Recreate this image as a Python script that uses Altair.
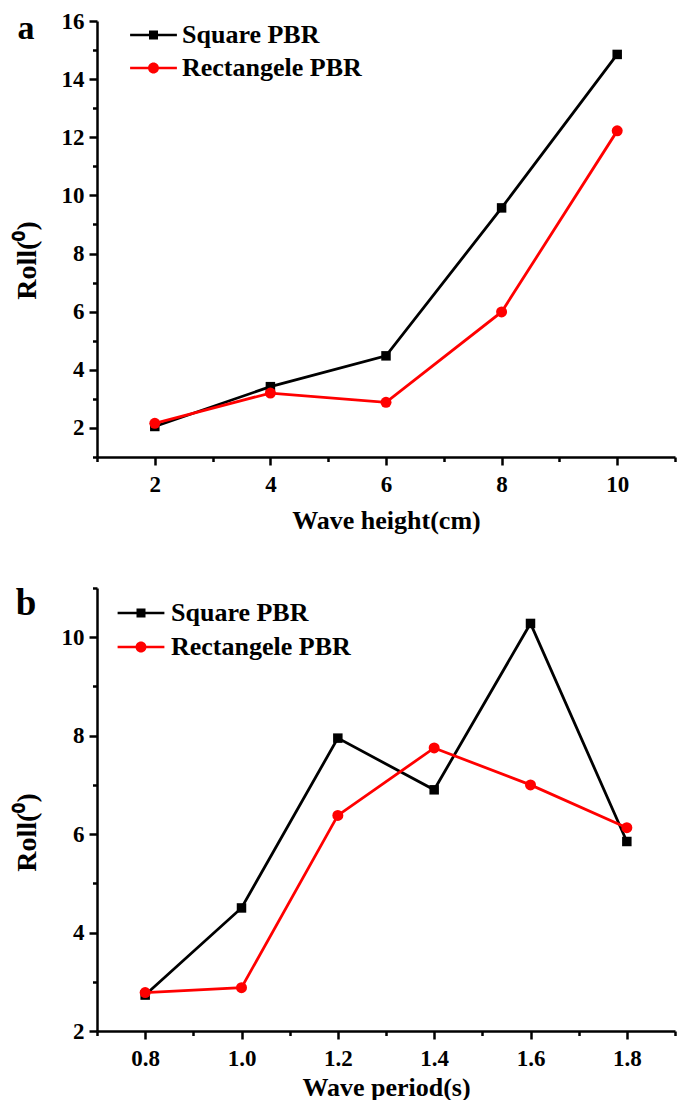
import altair as alt
import pandas as pd

# ---------------- data ----------------
series_names = ["Square PBR", "Rectangele PBR"]
series_colors = ["#000000", "#ff0000"]

wave_height_cm = [2, 4, 6, 8, 10]
roll_square_a = [2.05, 3.42, 4.48, 9.57, 14.85]
roll_rect_a = [2.16, 3.20, 2.88, 5.99, 12.22]

wave_period_s = [0.8, 1.0, 1.2, 1.4, 1.6, 1.8]
roll_square_b = [2.73, 4.50, 7.95, 6.90, 10.28, 5.85]
roll_rect_b = [2.78, 2.88, 6.38, 7.75, 7.00, 6.13]

a_x_ticks = [1, 2, 3, 4, 5, 6, 7, 8, 9, 10, 11]
a_y_ticks = [1, 2, 3, 4, 5, 6, 7, 8, 9, 10, 11, 12, 13, 14, 15, 16]
b_x_ticks = [0.7, 0.8, 0.9, 1.0, 1.1, 1.2, 1.3, 1.4, 1.5, 1.6, 1.7, 1.8, 1.9]
b_y_ticks = [2, 3, 4, 5, 6, 7, 8, 9, 10, 11]

panel_tags = ["a", "b"]
x_titles = ["Wave height(cm)", "Wave period(s)"]
y_title = "Roll(\u2070)"

# legend symbols: line segment with the marker in its middle (custom SVG paths)
LEGEND_PATHS = [
    "M-5.2,-0.3H-1V0.3H-5.2Z M-1,-1H1V1H-1Z M1,-0.3H5.2V0.3H1Z",
    "M-5.2,-0.3H-1.15V0.3H-5.2Z M-1.22,0A1.22,1.22 0 1,1 1.22,0A1.22,1.22 0 1,1 -1.22,0Z "
    "M1.15,-0.3H5.2V0.3H1.15Z",
]

FONT = "Liberation Serif"


def long_df(x, sq, rc):
    return pd.DataFrame({
        "x": list(x) + list(x),
        "y": list(sq) + list(rc),
        "series": [series_names[0]] * len(x) + [series_names[1]] * len(x),
    })


def panel(df, x_title, x_dom, y_dom, x_ticks, y_ticks, x_major, y_major, x_fmt,
          w, h, tag, tag_size, tag_y, sym_x, txt_x, rows_y, x_title_pad, y_title_y):
    x_axis = alt.Axis(
        values=x_ticks, format=x_fmt, title=x_title,
        labelExpr=f"({x_major}) ? datum.label : ''",
        tickSize={"condition": {"test": x_major, "value": 8}, "value": 4.5},
        labelPadding=8, titlePadding=x_title_pad,
    )
    y_axis = alt.Axis(
        values=y_ticks, format="d", title=y_title,
        labelExpr=f"({y_major}) ? datum.label : ''",
        tickSize={"condition": {"test": y_major, "value": 8}, "value": 4.5},
        labelPadding=5, titlePadding=20, titleFontSize=28, titleY=y_title_y,
    )
    x = alt.X("x:Q", scale=alt.Scale(domain=x_dom, nice=False, zero=False), axis=x_axis)
    y = alt.Y("y:Q", scale=alt.Scale(domain=y_dom, nice=False, zero=False), axis=y_axis)
    base = alt.Chart(df)

    lines = base.mark_line(strokeWidth=2.8).encode(
        x=x, y=y,
        color=alt.Color("series:N", scale=alt.Scale(domain=series_names, range=series_colors), legend=None),
    )
    squares = base.transform_filter(alt.datum.series == series_names[0]).mark_point(
        shape="square", filled=True, size=90, opacity=1, color=series_colors[0]
    ).encode(x=x, y=y)
    circles = base.transform_filter(alt.datum.series == series_names[1]).mark_point(
        shape="circle", filled=True, size=121, opacity=1, color=series_colors[1]
    ).encode(x=x, y=y)

    layers = [lines, squares, circles]
    # legend (line + marker symbol, bold label)
    for i, name in enumerate(series_names):
        d = pd.DataFrame({"series": [name]})
        layers.append(
            alt.Chart(d).mark_point(
                shape=LEGEND_PATHS[i], filled=True, size=81, opacity=1,
                color=series_colors[i], strokeWidth=0,
            ).encode(x=alt.value(sym_x), y=alt.value(rows_y[i]))
        )
        layers.append(
            alt.Chart(d).mark_text(
                align="left", baseline="middle", font=FONT, fontSize=26,
                fontWeight="bold", color="black",
            ).encode(text="series:N", x=alt.value(txt_x), y=alt.value(rows_y[i]))
        )

    tag_layer = alt.Chart(pd.DataFrame({"tag": [tag]})).mark_text(
        font=FONT, fontWeight="bold", fontSize=tag_size, align="center", baseline="alphabetic", color="black"
    ).encode(text="tag:N", x=alt.value(-71), y=alt.value(tag_y))
    layers.append(tag_layer)

    return alt.layer(*layers).properties(width=w, height=h)


pa = panel(long_df(wave_height_cm, roll_square_a, roll_rect_a), x_titles[0], [1, 11], [1, 16],
           a_x_ticks, a_y_ticks, "datum.value % 2 == 0", "datum.value % 2 == 0", "d",
           578, 436, panel_tags[0], 34, 18, 56.5, 85, [14, 47], 11, 239)
pb = panel(long_df(wave_period_s, roll_square_b, roll_rect_b), x_titles[1], [0.7, 1.9], [2, 11],
           b_x_ticks, b_y_ticks, "round(datum.value * 10) % 2 == 0", "datum.value % 2 == 0", ".1f",
           578, 443, panel_tags[1], 37, 27, 44, 74, [25, 59], 4, 244)

chart = alt.vconcat(pa, pb, spacing=52).properties(
    padding={"left": 5, "top": 2, "right": 0, "bottom": 0}
).configure_axis(
    domainColor="black", domainWidth=2.5, tickColor="black", tickWidth=2.5,
    labelFont=FONT, labelFontWeight="bold", labelFontSize=23, labelColor="black",
    titleFont=FONT, titleFontWeight="bold", titleFontSize=26, titleColor="black",
    grid=False,
).configure_view(stroke=None)

chart.save("out.html", embed_options={"renderer": "svg", "actions": False})
